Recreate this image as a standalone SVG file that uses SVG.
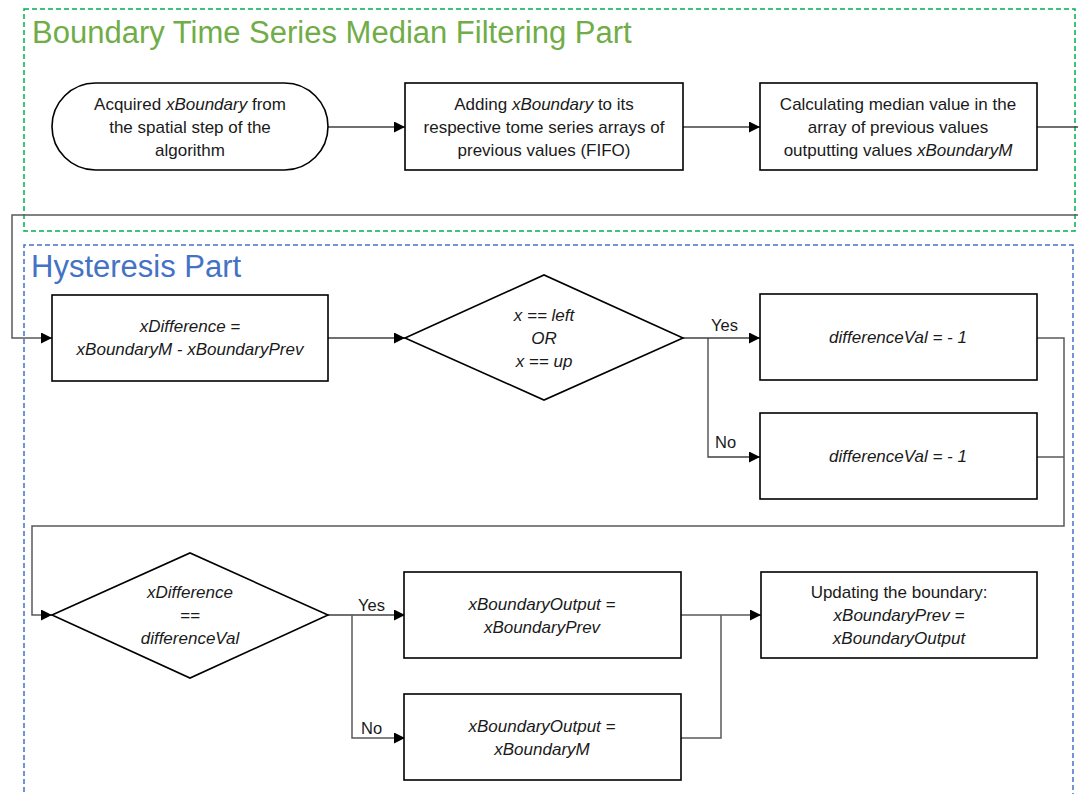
<svg xmlns="http://www.w3.org/2000/svg" width="1078" height="794" viewBox="0 0 1078 794">
<style>
text{font-family:"Liberation Sans",Arial,sans-serif;font-size:17px;fill:#1a1a1a;text-anchor:middle}
.i{font-style:italic}
.lbl{text-anchor:start;font-size:16.5px}
.node{fill:#fff;stroke:#000;stroke-width:1.6}
.conn{fill:none;stroke:#404040;stroke-width:1.3}
.loop{fill:none;stroke:#595959;stroke-width:1.5}
.title{font-size:31px;text-anchor:start}
</style>
<defs>
<marker id="arr" viewBox="0 0 11 11" refX="11" refY="5.5" markerWidth="11" markerHeight="11" markerUnits="userSpaceOnUse" orient="auto">
<path d="M0,0 L11,5.5 L0,11 Z" fill="#000"/>
</marker>
</defs>
<rect width="1078" height="794" fill="#fff"/>

<g id="group-median">
<rect x="24" y="9" width="1051" height="222" fill="none" stroke="#00B050" stroke-width="1.5" stroke-dasharray="5,3"/>
<text class="title" x="32" y="43" style="fill:#70AD47">Boundary Time Series Median Filtering Part</text>
</g>
<g id="group-hysteresis">
<path d="M24,800 V245 H1073 V800" fill="none" stroke="#4472C4" stroke-width="1.5" stroke-dasharray="5,3"/>
<text class="title" x="31" y="277" style="fill:#4472C4">Hysteresis Part</text>
</g>

<g id="connectors">
<path class="conn" d="M328,127 H405" marker-end="url(#arr)"/>
<path class="conn" d="M683,127 H760" marker-end="url(#arr)"/>
<path class="conn" d="M1037,127 H1078"/>
<path class="loop" d="M1078,215 H12 V338 H52" marker-end="url(#arr)"/>
<path class="conn" d="M328,338 H405" marker-end="url(#arr)"/>
<path class="conn" d="M683,338 H760" marker-end="url(#arr)"/>
<path class="conn" d="M708,338 V457 H760" marker-end="url(#arr)"/>
<path class="loop" d="M1037,338 H1064 V526 H32 V615 H52" marker-end="url(#arr)"/>
<path class="loop" d="M1037,457 H1064"/>
<path class="conn" d="M328,615 H405" marker-end="url(#arr)"/>
<path class="loop" d="M352,615 V738 H405" marker-end="url(#arr)"/>
<path class="loop" d="M681,615 H761" marker-end="url(#arr)"/>
<path class="loop" d="M681,738 H721 V615"/>
<text class="lbl" x="711" y="331">Yes</text>
<text class="lbl" x="715" y="448">No</text>
<text class="lbl" x="358" y="611">Yes</text>
<text class="lbl" x="361" y="734">No</text>
</g>

<g id="n-acquired">
<rect class="node" x="52" y="83" width="276" height="87" rx="43.5"/>
<text x="190" y="110">Acquired <tspan class="i">xBoundary</tspan> from</text>
<text x="190" y="133">the spatial step of the</text>
<text x="190" y="156">algorithm</text>
</g>
<g id="n-adding">
<rect class="node" x="405" y="83" width="278" height="87"/>
<text x="544" y="110">Adding <tspan class="i">xBoundary</tspan> to its</text>
<text x="544" y="133">respective tome series arrays of</text>
<text x="544" y="156">previous values (FIFO)</text>
</g>
<g id="n-median">
<rect class="node" x="760" y="83" width="277" height="87"/>
<text x="898" y="110">Calculating median value in the</text>
<text x="898" y="133">array of previous values</text>
<text x="898" y="156">outputting values <tspan class="i">xBoundaryM</tspan></text>
</g>

<g id="n-xdifference">
<rect class="node" x="52" y="295" width="276" height="86"/>
<text class="i" x="190" y="332">xDifference =</text>
<text class="i" x="190" y="355">xBoundaryM - xBoundaryPrev</text>
</g>
<g id="d-direction">
<polygon class="node" points="405,338 544,275 683,338 544,400"/>
<text class="i" x="544" y="321">x == left</text>
<text class="i" x="544" y="344">OR</text>
<text class="i" x="544" y="367">x == up</text>
</g>
<g id="n-diffval-yes">
<rect class="node" x="760" y="294" width="277" height="86"/>
<text class="i" x="898" y="343">differenceVal = - 1</text>
</g>
<g id="n-diffval-no">
<rect class="node" x="760" y="413" width="277" height="86"/>
<text class="i" x="898" y="462">differenceVal = - 1</text>
</g>

<g id="d-compare">
<polygon class="node" points="52,615 190,553 328,615 190,678"/>
<text class="i" x="190" y="598">xDifference</text>
<text class="i" x="190" y="621">==</text>
<text class="i" x="190" y="644">differenceVal</text>
</g>
<g id="n-output-prev">
<rect class="node" x="404" y="572" width="277" height="86"/>
<text class="i" x="542" y="610">xBoundaryOutput =</text>
<text class="i" x="542" y="633">xBoundaryPrev</text>
</g>
<g id="n-output-m">
<rect class="node" x="404" y="694" width="277" height="86"/>
<text class="i" x="542" y="732">xBoundaryOutput =</text>
<text class="i" x="542" y="755">xBoundaryM</text>
</g>
<g id="n-update">
<rect class="node" x="761" y="572" width="276" height="86"/>
<text x="899" y="598">Updating the boundary:</text>
<text class="i" x="899" y="621">xBoundaryPrev =</text>
<text class="i" x="899" y="644">xBoundaryOutput</text>
</g>
</svg>
